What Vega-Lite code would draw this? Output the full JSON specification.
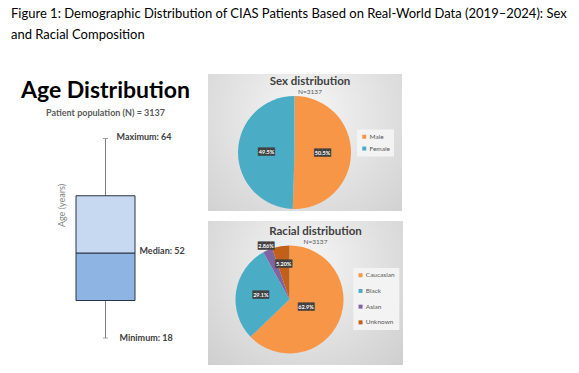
{
  "$schema": "https://vega.github.io/schema/vega-lite/v6.json",
  "background": "white",
  "padding": {"left": 10, "top": 8, "right": 0, "bottom": 0},
  "config": {"font": "Lato", "view": {"stroke": null}},
  "title": {
    "text": ["Figure 1: Demographic Distribution of CIAS Patients Based on Real-World Data (2019–2024): Sex", "and Racial Composition"],
    "anchor": "start", "frame": "bounds", "font": "Lato", "fontSize": 13, "fontWeight": "normal",
    "color": "#000000", "lineHeight": 21, "offset": 32, "dx": -10
  },
  "datasets": {
    "age": [{"group": "Age", "min": 18, "q1": 33, "median": 52, "q3": 58, "max": 64}],
    "ageLabels": [
      {"group": "Age", "stat": "Maximum", "value": 64, "label": "Maximum: 64"},
      {"group": "Age", "stat": "Median", "value": 52, "label": "Median: 52"},
      {"group": "Age", "stat": "Minimum", "value": 18, "label": "Minimum: 18"}
    ],
    "sex": [
      {"sex": "Male", "pct": 50.5, "label": "50.5%", "rank": 1},
      {"sex": "Female", "pct": 49.5, "label": "49.5%", "rank": 2}
    ],
    "race": [
      {"race": "Caucasian", "pct": 62.9, "label": "62.9%", "rank": 1},
      {"race": "Black", "pct": 29.1, "label": "29.1%", "rank": 2},
      {"race": "Asian", "pct": 2.86, "label": "2.86%", "rank": 3},
      {"race": "Unknown", "pct": 5.2, "label": "5.20%", "rank": 4}
    ]
  },
  "resolve": {"scale": {"x": "independent", "y": "independent", "color": "independent", "theta": "independent"}, "legend": {"color": "independent"}},
  "spacing": 17,
  "hconcat": [
    {
      "width": 73, "height": 264,
      "title": {
        "text": "Age Distribution", "subtitle": "Patient population (N) = 3137",
        "anchor": "middle", "font": "Lato", "fontSize": 23, "fontWeight": "bold", "color": "#000000",
        "subtitleFont": "Lato", "subtitleFontSize": 9, "subtitleFontWeight": "bold", "subtitleColor": "#595959",
        "subtitlePadding": 6, "offset": -44
      },
      "encoding": {
        "x": {"field": "group", "type": "nominal", "axis": null, "scale": {"paddingInner": 0, "paddingOuter": 0}}
      },
      "layer": [
        {
          "data": {"name": "age"},
          "mark": {"type": "rule", "color": "#808080", "strokeWidth": 1},
          "encoding": {
            "y": {"field": "min", "type": "quantitative",
              "scale": {"type": "linear", "domain": [18, 52, 64], "range": [264, 179, 64.5], "nice": false, "zero": false},
              "axis": {"title": "Age (years)", "labels": false, "ticks": false, "domain": false, "grid": false,
                "titleColor": "#7f7f7f", "titleFont": "Lato", "titleFontSize": 9, "titleFontWeight": "normal",
                "titlePadding": 3, "minExtent": 0, "titleY": 131}},
            "y2": {"field": "max"}
          }
        },
        {
          "data": {"name": "age"},
          "mark": {"type": "tick", "color": "#808080", "size": 5, "thickness": 1},
          "encoding": {"y": {"field": "min", "type": "quantitative"}}
        },
        {
          "data": {"name": "age"},
          "mark": {"type": "tick", "color": "#808080", "size": 5, "thickness": 1},
          "encoding": {"y": {"field": "max", "type": "quantitative"}}
        },
        {
          "data": {"name": "age"},
          "mark": {"type": "bar", "size": 59, "fill": "#8eb4e3", "stroke": "#2a3447", "strokeWidth": 1},
          "encoding": {"y": {"field": "q1", "type": "quantitative"}, "y2": {"field": "median"}}
        },
        {
          "data": {"name": "age"},
          "mark": {"type": "bar", "size": 59, "fill": "#c6d9f1", "stroke": "#2a3447", "strokeWidth": 1},
          "encoding": {"y": {"field": "median", "type": "quantitative"}, "y2": {"field": "q3"}}
        },
        {
          "data": {"name": "ageLabels"},
          "transform": [{"filter": "datum.stat === 'Maximum'"}],
          "mark": {"type": "text", "align": "left", "baseline": "middle", "dx": 11, "dy": -2, "font": "Lato", "fontSize": 9, "fontWeight": "bold", "color": "#404040"},
          "encoding": {"y": {"field": "value", "type": "quantitative"}, "text": {"field": "label"}}
        },
        {
          "data": {"name": "ageLabels"},
          "transform": [{"filter": "datum.stat === 'Median'"}],
          "mark": {"type": "text", "align": "left", "baseline": "middle", "dx": 34, "dy": -2, "font": "Lato", "fontSize": 9, "fontWeight": "bold", "color": "#404040"},
          "encoding": {"y": {"field": "value", "type": "quantitative"}, "text": {"field": "label"}}
        },
        {
          "data": {"name": "ageLabels"},
          "transform": [{"filter": "datum.stat === 'Minimum'"}],
          "mark": {"type": "text", "align": "left", "baseline": "middle", "dx": 14, "font": "Lato", "fontSize": 9, "fontWeight": "bold", "color": "#404040"},
          "encoding": {"y": {"field": "value", "type": "quantitative"}, "text": {"field": "label"}}
        }
      ]
    },
    {
      "spacing": 10,
      "resolve": {"scale": {"x": "independent", "y": "independent", "color": "independent", "theta": "independent"}, "legend": {"color": "independent"}},
      "vconcat": [
        {
          "width": 194, "height": 137,
          "view": {"stroke": null, "fill": {"gradient": "radial", "x1": 0.5, "y1": 0.35, "r1": 0, "x2": 0.5, "y2": 0.35, "r2": 0.8,
            "stops": [{"offset": 0, "color": "#f6f6f6"}, {"offset": 1, "color": "#cdcdcd"}]}},
          "title": {
            "text": "Sex distribution", "subtitle": "N=3137", "anchor": "middle", "dx": 5,
            "font": "Lato", "fontSize": 11.5, "fontWeight": "bold", "color": "#404040",
            "subtitleFont": "Lato", "subtitleFontSize": 6.5, "subtitleColor": "#595959", "subtitlePadding": 1,
            "offset": -21
          },
          "data": {"name": "sex"},
          "encoding": {
            "theta": {"field": "pct", "type": "quantitative", "stack": true},
            "order": {"field": "rank", "type": "quantitative"},
            "x": {"datum": 0.446, "type": "quantitative", "scale": {"domain": [0, 1], "nice": false, "zero": false}, "axis": null},
            "y": {"datum": 0.573, "type": "quantitative", "scale": {"domain": [0, 1], "nice": false, "zero": false, "reverse": true}, "axis": null}
          },
          "layer": [
            {
              "mark": {"type": "arc", "outerRadius": 56.5},
              "encoding": {
                "color": {"field": "sex", "type": "nominal",
                  "scale": {"domain": ["Male", "Female"], "range": ["#f79646", "#4bacc6"]},
                  "legend": {"title": null, "orient": "none", "legendX": 149, "legendY": 55.5, "symbolType": "square",
                    "symbolSize": 16, "symbolStrokeWidth": 0, "labelFont": "Lato", "labelFontSize": 6.5, "labelColor": "#595959",
                    "rowPadding": 4.8, "padding": 4, "fillColor": "#f3f3f3", "labelOffset": 2}}
              }
            },
            {
              "mark": {"type": "text", "text": "████", "font": "DejaVu Sans Mono", "fontSize": 7, "fill": "#404040",
                "radius": 28, "baseline": "middle", "align": "center"},
              "encoding": {"detail": {"field": "sex"}}
            },
            {
              "mark": {"type": "text", "font": "Lato", "fontSize": 5.5, "fontWeight": "bold", "fill": "#ffffff",
                "radius": 28, "baseline": "middle", "align": "center"},
              "encoding": {"detail": {"field": "sex"}, "text": {"field": "label"}}
            }
          ]
        },
        {
          "width": 195, "height": 144,
          "view": {"stroke": null, "fill": {"gradient": "radial", "x1": 0.5, "y1": 0.35, "r1": 0, "x2": 0.5, "y2": 0.35, "r2": 0.8,
            "stops": [{"offset": 0, "color": "#f6f6f6"}, {"offset": 1, "color": "#cacaca"}]}},
          "title": {
            "text": "Racial distribution", "subtitle": "N=3137", "anchor": "middle", "dx": 10,
            "font": "Lato", "fontSize": 11.5, "fontWeight": "bold", "color": "#404040",
            "subtitleFont": "Lato", "subtitleFontSize": 6.5, "subtitleColor": "#595959", "subtitlePadding": 1,
            "offset": -24
          },
          "data": {"name": "race"},
          "encoding": {
            "theta": {"field": "pct", "type": "quantitative", "stack": true},
            "order": {"field": "rank", "type": "quantitative"},
            "x": {"datum": 0.418, "type": "quantitative", "scale": {"domain": [0, 1], "nice": false, "zero": false}, "axis": null},
            "y": {"datum": 0.545, "type": "quantitative", "scale": {"domain": [0, 1], "nice": false, "zero": false, "reverse": true}, "axis": null}
          },
          "layer": [
            {
              "mark": {"type": "arc", "outerRadius": 54},
              "encoding": {
                "color": {"field": "race", "type": "nominal",
                  "scale": {"domain": ["Caucasian", "Black", "Asian", "Unknown"], "range": ["#f79646", "#4bacc6", "#8064a2", "#c0601a"]},
                  "legend": {"title": null, "orient": "none", "legendX": 145.3, "legendY": 47, "symbolType": "square",
                    "symbolSize": 16, "symbolStrokeWidth": 0, "labelFont": "Lato", "labelFontSize": 6.5, "labelColor": "#595959",
                    "rowPadding": 8.7, "padding": 4, "fillColor": "#f3f3f3", "labelOffset": 2}}
              }
            },
            {
              "mark": {"type": "text", "text": "████", "font": "DejaVu Sans Mono", "fontSize": 7, "fill": "#404040", "radius": 18, "baseline": "middle", "align": "center"},
              "encoding": {"detail": {"field": "race"}, "opacity": {"condition": {"test": "datum.race === 'Caucasian'", "value": 1}, "value": 0}}
            },
            {
              "mark": {"type": "text", "font": "Lato", "fontSize": 5.5, "fontWeight": "bold", "fill": "#ffffff", "radius": 18, "baseline": "middle", "align": "center"},
              "encoding": {"detail": {"field": "race"}, "text": {"field": "label"}, "opacity": {"condition": {"test": "datum.race === 'Caucasian'", "value": 1}, "value": 0}}
            },
            {
              "mark": {"type": "text", "text": "████", "font": "DejaVu Sans Mono", "fontSize": 7, "fill": "#404040", "radius": 29, "baseline": "middle", "align": "center"},
              "encoding": {"detail": {"field": "race"}, "opacity": {"condition": {"test": "datum.race === 'Black'", "value": 1}, "value": 0}}
            },
            {
              "mark": {"type": "text", "font": "Lato", "fontSize": 5.5, "fontWeight": "bold", "fill": "#ffffff", "radius": 29, "baseline": "middle", "align": "center"},
              "encoding": {"detail": {"field": "race"}, "text": {"field": "label"}, "opacity": {"condition": {"test": "datum.race === 'Black'", "value": 1}, "value": 0}}
            },
            {
              "mark": {"type": "text", "text": "████", "font": "DejaVu Sans Mono", "fontSize": 7, "fill": "#404040", "radius": 58, "baseline": "middle", "align": "center"},
              "encoding": {"detail": {"field": "race"}, "opacity": {"condition": {"test": "datum.race === 'Asian'", "value": 1}, "value": 0}}
            },
            {
              "mark": {"type": "text", "font": "Lato", "fontSize": 5.5, "fontWeight": "bold", "fill": "#ffffff", "radius": 58, "baseline": "middle", "align": "center"},
              "encoding": {"detail": {"field": "race"}, "text": {"field": "label"}, "opacity": {"condition": {"test": "datum.race === 'Asian'", "value": 1}, "value": 0}}
            },
            {
              "mark": {"type": "text", "text": "████", "font": "DejaVu Sans Mono", "fontSize": 7, "fill": "#404040", "radius": 36, "baseline": "middle", "align": "center"},
              "encoding": {"detail": {"field": "race"}, "opacity": {"condition": {"test": "datum.race === 'Unknown'", "value": 1}, "value": 0}}
            },
            {
              "mark": {"type": "text", "font": "Lato", "fontSize": 5.5, "fontWeight": "bold", "fill": "#ffffff", "radius": 36, "baseline": "middle", "align": "center"},
              "encoding": {"detail": {"field": "race"}, "text": {"field": "label"}, "opacity": {"condition": {"test": "datum.race === 'Unknown'", "value": 1}, "value": 0}}
            }
          ]
        }
      ]
    }
  ]
}
